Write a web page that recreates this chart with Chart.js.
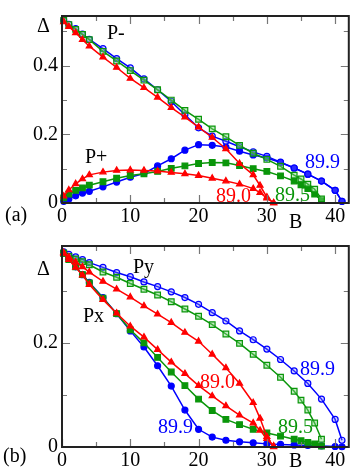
<!DOCTYPE html>
<html><head><meta charset="utf-8">
<script src="https://cdn.jsdelivr.net/npm/chart.js@4.4.0/dist/chart.umd.min.js"></script>
<style>
html,body{margin:0;padding:0;background:#fff;}
#wrap{position:relative;width:354px;height:475px;overflow:hidden;}
canvas{position:absolute;left:0;}
#ca{top:0;} #cb{top:230px;}
</style></head><body>
<div id="wrap"><canvas id="ca" width="354" height="230"></canvas><canvas id="cb" width="354" height="245"></canvas></div>
<script>
// ---- field values B for each angle ----
const B_890 = [0.25,1,2,3,4,6,8,10,12,14,16,18,20,22,24,26,28,29,30,31];
const B_895 = [0.25,1,2,3,4,6,8,10,12,14,16,18,20,22,24,26,28,30,32,34,35,36,37,38];
const B_899 = [0.25,1,2,3,4,6,8,10,12,14,16,18,20,22,24,26,28,30,32,34,36,38,40,41];

// ---- panel (a): P- and P+ ----
const a_Pminus_890 = [0.528,0.514,0.496,0.476,0.457,0.425,0.395,0.363,0.336,0.308,0.278,0.250,0.221,0.191,0.158,0.115,0.082,0.051,0.017,0.0];
const a_Pplus_890  = [0.020,0.038,0.056,0.070,0.082,0.090,0.095,0.096,0.095,0.093,0.089,0.085,0.080,0.072,0.064,0.055,0.042,0.030,0.014,0.0];
const a_Pminus_895 = [0.532,0.520,0.506,0.491,0.476,0.442,0.414,0.386,0.358,0.330,0.300,0.270,0.244,0.216,0.193,0.168,0.145,0.127,0.107,0.081,0.070,0.055,0.040,0.012];
const a_Pplus_895  = [0.015,0.026,0.037,0.044,0.052,0.062,0.072,0.080,0.085,0.092,0.101,0.108,0.115,0.118,0.117,0.109,0.100,0.092,0.079,0.064,0.053,0.042,0.026,0.007];
const a_Pminus_899 = [0.532,0.521,0.508,0.492,0.477,0.450,0.421,0.394,0.362,0.330,0.296,0.257,0.219,0.195,0.180,0.164,0.149,0.136,0.119,0.102,0.084,0.064,0.037,0.005];
const a_Pplus_899  = [0.005,0.012,0.021,0.029,0.034,0.047,0.061,0.075,0.086,0.108,0.129,0.154,0.170,0.168,0.163,0.151,0.140,0.131,0.118,0.102,0.084,0.064,0.037,0.005];

// ---- panel (b): Py and Px ----
const b_Py_890 = [0.373,0.365,0.355,0.346,0.336,0.318,0.303,0.288,0.271,0.255,0.239,0.220,0.203,0.178,0.152,0.122,0.085,0.055,0.020,0.0];
const b_Px_890 = [0.372,0.360,0.345,0.330,0.312,0.283,0.257,0.232,0.211,0.187,0.163,0.141,0.118,0.098,0.079,0.061,0.046,0.032,0.016,0.002];
const b_Py_895 = [0.372,0.366,0.361,0.356,0.350,0.336,0.326,0.314,0.303,0.292,0.279,0.265,0.251,0.235,0.217,0.199,0.178,0.157,0.134,0.107,0.090,0.071,0.046,0.015];
const b_Px_895 = [0.372,0.360,0.346,0.331,0.315,0.286,0.256,0.225,0.200,0.172,0.144,0.118,0.092,0.070,0.053,0.043,0.034,0.027,0.021,0.015,0.012,0.009,0.006,0.002];
const b_Py_899 = [0.375,0.370,0.365,0.360,0.354,0.345,0.335,0.327,0.317,0.308,0.298,0.287,0.274,0.258,0.242,0.223,0.206,0.188,0.168,0.146,0.122,0.092,0.053,0.013];
const b_Px_899 = [0.373,0.361,0.346,0.331,0.316,0.287,0.256,0.223,0.192,0.156,0.117,0.071,0.034,0.019,0.013,0.010,0.008,0.006,0.005,0.004,0.003,0.002,0.001,0.0005];

// ---- ticks ----
const xMajorTicks = [0,10,20,30,40];
const xMinorTicks = [5,15,25,35];
const aYMajorTicks = [0,0.2,0.4];
const aYMinorTicks = [0.1,0.3,0.5];
const bYMajorTicks = [0,0.2];
const bYMinorTicks = [0.1,0.3];

const RED = '#ff0000', GREEN = '#0a960a', BLUE = '#0000ff';
const FONT = '"Liberation Serif", "Times New Roman", serif';

const pts = (xs, ys) => xs.map((x, i) => ({x, y: ys[i]}));

function ds(xs, ys, color, style, open, r) {
  return {
    data: pts(xs, ys), showLine: true, borderColor: color, borderWidth: 1.5,
    pointStyle: style, pointRadius: r, pointBorderColor: color, pointBorderWidth: 1.2,
    pointBackgroundColor: open ? (color === BLUE ? 'rgba(120,120,255,0.35)' : 'rgba(120,210,120,0.45)') : color,
    clip: false, tension: 0
  };
}

const framePlugin = {
  id: 'frame',
  afterDatasetsDraw(chart, args, opts) {
    const {ctx, chartArea: a, scales: {x, y}} = chart;
    ctx.save();
    ctx.strokeStyle = '#777'; ctx.lineWidth = 1.2;
    const vt = (v, len) => { const p = Math.round(x.getPixelForValue(v)) + 0.5;
      ctx.beginPath(); ctx.moveTo(p, a.bottom); ctx.lineTo(p, a.bottom - len);
      ctx.moveTo(p, a.top); ctx.lineTo(p, a.top + len); ctx.stroke(); };
    const ht = (v, len) => { const p = Math.round(y.getPixelForValue(v)) + 0.5;
      ctx.beginPath(); ctx.moveTo(a.left, p); ctx.lineTo(a.left + len, p);
      ctx.moveTo(a.right, p); ctx.lineTo(a.right - len, p); ctx.stroke(); };
    xMajorTicks.forEach(v => vt(v, 8)); xMinorTicks.forEach(v => vt(v, 5));
    opts.yMajor.forEach(v => ht(v, 8)); opts.yMinor.forEach(v => ht(v, 5));
    ctx.strokeStyle = '#222'; ctx.lineWidth = 2;
    ctx.strokeRect(a.left, a.top, a.width, a.height);
    ctx.textBaseline = 'alphabetic'; ctx.textAlign = 'left';
    for (const l of opts.labels) {
      ctx.fillStyle = l.color; ctx.font = (l.size || 20) + 'px ' + FONT;
      ctx.fillText(l.text, l.x, l.y);
    }
    ctx.restore();
  }
};

function makeChart(id, datasets, ymax, yMajor, yMinor, padTop, xHeight, labels) {
  return new Chart(document.getElementById(id), {
    type: 'scatter',
    data: {datasets},
    options: {
      responsive: false, animation: false, devicePixelRatio: 1,
      layout: {padding: {top: padTop, right: 4, bottom: 0, left: 0}},
      plugins: {legend: {display: false}, tooltip: {enabled: false}, frame: {labels, yMajor, yMinor}},
      scales: {
        x: {type: 'linear', min: 0, max: 42,
          afterBuildTicks: s => { s.ticks = xMajorTicks.map(v => ({value: v})); },
          afterFit: s => { s.height = xHeight; },
          ticks: {color: '#000', font: {family: FONT, size: 20}, padding: 2, maxRotation: 0,
                  callback: v => String(v)},
          grid: {display: false, drawTicks: false}, border: {display: false}},
        y: {type: 'linear', min: 0, max: ymax,
          afterBuildTicks: s => { s.ticks = yMajor.map(v => ({value: v})); },
          afterFit: s => { s.width = 62; },
          ticks: {color: '#000', font: {family: FONT, size: 20}, padding: 4,
                  callback: v => String(v)},
          grid: {display: false, drawTicks: false}, border: {display: false}}
      }
    },
    plugins: [framePlugin]
  });
}

makeChart('ca', [
  ds(B_890, a_Pminus_890, RED, 'triangle', false, 3.5),
  ds(B_890, a_Pplus_890, RED, 'triangle', false, 3.5),
  ds(B_895, a_Pminus_895, GREEN, 'rect', true, 4),
  ds(B_895, a_Pplus_895, GREEN, 'rect', false, 4),
  ds(B_899, a_Pminus_899, BLUE, 'circle', true, 3),
  ds(B_899, a_Pplus_899, BLUE, 'circle', false, 3)
], 0.545, aYMajorTicks, aYMinorTicks, 4, 27, [
  {text: 'Δ', x: 37, y: 32, color: '#000'},
  {text: 'P-', x: 107, y: 39, color: '#000'},
  {text: 'P+', x: 85, y: 163, color: '#000'},
  {text: '89.9', x: 305, y: 168, color: BLUE},
  {text: '89.0', x: 216, y: 202, color: RED},
  {text: '89.5', x: 275, y: 201, color: GREEN},
  {text: '(a)', x: 5, y: 221, color: '#000'},
  {text: 'B', x: 289, y: 228, color: '#000'}
]);

makeChart('cb', [
  ds(B_890, b_Py_890, RED, 'triangle', false, 3.5),
  ds(B_890, b_Px_890, RED, 'triangle', false, 3.5),
  ds(B_895, b_Py_895, GREEN, 'rect', true, 4),
  ds(B_895, b_Px_895, GREEN, 'rect', false, 4),
  ds(B_899, b_Py_899, BLUE, 'circle', true, 3),
  ds(B_899, b_Px_899, BLUE, 'circle', false, 3)
], 0.386, bYMajorTicks, bYMinorTicks, 16, 28, [
  {text: 'Δ', x: 37, y: 45, color: '#000'},
  {text: 'Py', x: 133, y: 43, color: '#000'},
  {text: 'Px', x: 83, y: 92, color: '#000'},
  {text: '89.9', x: 300, y: 145, color: BLUE},
  {text: '89.0', x: 200, y: 158, color: RED},
  {text: '89.5', x: 278, y: 203, color: GREEN},
  {text: '89.9', x: 158, y: 203, color: BLUE},
  {text: '(b)', x: 3, y: 232, color: '#000'},
  {text: 'B', x: 289, y: 237, color: '#000'}
]);
</script>
</body></html>
